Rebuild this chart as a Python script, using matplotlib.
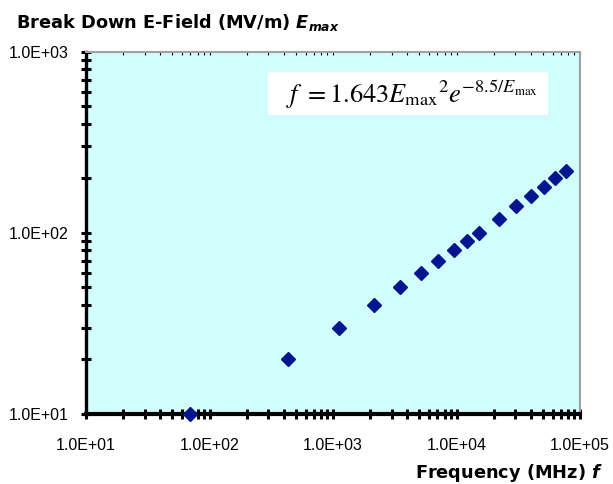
import numpy as np
import matplotlib
matplotlib.use('Agg')
import matplotlib.pyplot as plt
from matplotlib.patches import Rectangle
from matplotlib.ticker import LogLocator, NullFormatter, FixedFormatter, FixedLocator

# Break down field vs frequency
e_max = [10, 20, 30, 40, 50, 60, 70, 80, 90, 100, 120, 140, 160, 180, 200, 220]
freq = [70, 430, 1110, 2130, 3470, 5130, 7130, 9460, 12100, 15100,
        22000, 30300, 39900, 50800, 63000, 76500]

x_ticks = [1e1, 1e2, 1e3, 1e4, 1e5]
x_labels = ['1.0E+01', '1.0E+02', '1.0E+03', '1.0E+04', '1.0E+05']
y_ticks = [1e1, 1e2, 1e3]
y_labels = ['1.0E+01', '1.0E+02', '1.0E+03']

plt.rcParams['mathtext.fontset'] = 'custom'
plt.rcParams['mathtext.it'] = 'DejaVu Sans:bold:italic'
plt.rcParams['mathtext.rm'] = 'DejaVu Sans:bold'

fig = plt.figure(figsize=(6.13, 4.84), dpi=100)
ax = fig.add_axes([86 / 613, 1 - 414 / 484, 494 / 613, 362.3 / 484])
ax.set_facecolor('#d2fdfd')

ax.plot(freq, e_max, linestyle='none', marker='D', markersize=7.3,
        color='#05158f', markeredgecolor='#05158f', clip_on=False, zorder=5)

ax.set_xscale('log')
ax.set_yscale('log')
ax.set_xlim(1e1, 1e5)
ax.set_ylim(1e1, 1e3)

ax.xaxis.set_major_locator(FixedLocator(x_ticks))
ax.xaxis.set_major_formatter(FixedFormatter(x_labels))
ax.yaxis.set_major_locator(FixedLocator(y_ticks))
ax.yaxis.set_major_formatter(FixedFormatter(y_labels))
for axis in (ax.xaxis, ax.yaxis):
    axis.set_minor_locator(LogLocator(base=10, subs=np.arange(2, 10)))
    axis.set_minor_formatter(NullFormatter())

# thick black left/bottom, thin grey top/right
for side in ('left', 'bottom'):
    ax.spines[side].set_color('black')
ax.spines['left'].set_linewidth(2.4)
ax.spines['bottom'].set_linewidth(3)
for side in ('top', 'right'):
    ax.spines[side].set_color('#a0a0a0')
    ax.spines[side].set_linewidth(1.5)

ax.tick_params(axis='both', which='both', direction='inout', length=6.5,
               width=2.2, color='black', right=False)
ax.tick_params(axis='x', which='both', top=True, labeltop=False)
ax.tick_params(axis='x', which='major', pad=14)
ax.tick_params(axis='y', which='major', pad=9)
for lab in ax.get_xticklabels() + ax.get_yticklabels():
    lab.set_fontfamily('Liberation Sans')
    lab.set_fontsize(11.5)

# the ticks on the top edge are tiny and grey
for t in ax.xaxis.get_major_ticks() + ax.xaxis.get_minor_ticks():
    t.tick2line.set_markersize(2.5)
    t.tick2line.set_markeredgewidth(0.8)
    t.tick2line.set_color('#555555')
    t.tick2line.set_marker(3)

# equation box
ax.add_patch(Rectangle((0.368, 0.825), 0.567, 0.119, transform=ax.transAxes,
                       facecolor='white', edgecolor='none', zorder=3))
ax.text(0.66, 0.882, r'$f\ =1.643E_{\mathrm{max}}{}^{2}e^{-8.5/E_{\mathrm{max}}}$',
        transform=ax.transAxes, ha='center', va='center', fontsize=19,
        math_fontfamily='stix', zorder=4)

fig.text(16 / 613, 1 - 28 / 484, r'Break Down E-Field (MV/m) $E_{max}$',
         fontsize=12.8, fontweight='bold', family='DejaVu Sans', va='baseline')
fig.text(603 / 613, 1 - 478 / 484, r'Frequency (MHz) $f$',
         fontsize=12.8, fontweight='bold', family='DejaVu Sans', va='baseline',
         ha='right')

fig.savefig('out.png', dpi=100)
